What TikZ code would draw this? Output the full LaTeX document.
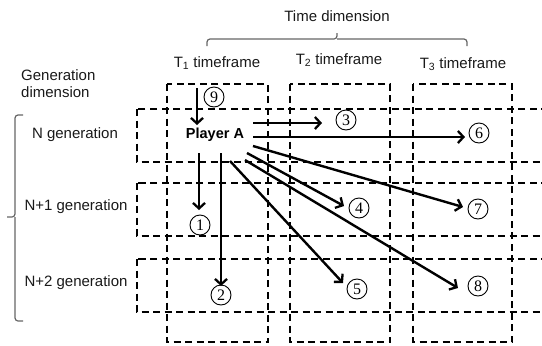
\documentclass[tikz,border=0pt]{standalone}
\usepackage{fontspec}
\setmainfont{Liberation Sans}
\newfontfamily\numfont{Liberation Serif}
\usetikzlibrary{arrows.meta}
\tikzset{
  dbox/.style={draw=black, line width=2pt, dash pattern=on 7pt off 4.5pt},
  lbl/.style={font=\fontsize{15}{17}\selectfont, text=black!90, inner sep=0pt},
  num/.style={draw=black, circle, line width=0.9pt, minimum size=20pt, inner sep=0pt, font=\numfont\fontsize{16}{16}\selectfont},
  arr/.style={line width=2.4pt, -{Straight Barb[length=5.5pt,width=12pt,line width=2.3pt]}},
  gbrace/.style={draw=black!60, line width=1.2pt, rounded corners=3pt},
}
\begin{document}
\begin{tikzpicture}[x=1pt,y=-1pt]
\useasboundingbox (0,0) rectangle (542,346);
% column boxes
\draw[dbox] (167,84) rectangle (268,342);
\draw[dbox] (290,84) rectangle (390,342);
\draw[dbox] (413,84) rectangle (512,342);
% row boxes (clipped at right edge)
\begin{scope}
\clip (0,0) rectangle (542,346);
\draw[dbox] (137,109) rectangle (600,162);
\draw[dbox] (137,183) rectangle (600,236);
\draw[dbox] (137,259) rectangle (600,312);
\end{scope}
% labels
\node[lbl] (td) at (337,16) {Time dimension};
\node[lbl] (t1) at (217,63) {T\textsubscript{1} timeframe};
\node[lbl] (t2) at (339,60) {T\textsubscript{2} timeframe};
\node[lbl] (t3) at (463,64) {T\textsubscript{3} timeframe};
\node[lbl, align=left, anchor=west] (gd) at (21,84) {Generation\\dimension};
\node[lbl] (ng) at (75,135) {N generation};
\node[lbl] (n1) at (76,207) {N+1 generation};
\node[lbl] (n2) at (76,283) {N+2 generation};
% braces
\coordinate (tbl) at (207,46);
\coordinate (tbr) at (467,46);
\coordinate (tbt) at (337,33);
\draw[gbrace] (tbl) -- (207,39) -- (337,39) -- (tbt);
\draw[gbrace] (tbr) -- (467,39) -- (337,39);
\coordinate (lbt) at (23,115);
\coordinate (lbb) at (23,321);
\coordinate (lbm) at (7,217);
\draw[gbrace] (lbt) -- (15,115) -- (15,217) -- (lbm);
\draw[gbrace] (lbb) -- (15,321) -- (15,217);
% player
\node[font=\bfseries\fontsize{14.5}{16}\selectfont, inner sep=0pt] (pa) at (215,135) {Player A};
% numbered circles
\node[num] (c1) at (200,225) {1};
\node[num] (c2) at (221,295) {2};
\node[num] (c3) at (346,120) {3};
\node[num] (c4) at (359,208) {4};
\node[num] (c5) at (357,289) {5};
\node[num] (c6) at (479,133) {6};
\node[num] (c7) at (478,209) {7};
\node[num] (c8) at (478,286) {8};
\node[num] (c9) at (214,97) {9};
% arrow coordinates
\coordinate (s9) at (197,88);  \coordinate (e9) at (197,125);
\coordinate (s1) at (199,153); \coordinate (e1) at (199,210);
\coordinate (s2) at (221,153); \coordinate (e2) at (221,286);
\coordinate (s3) at (253,123); \coordinate (e3) at (322,123);
\coordinate (s6) at (253,137); \coordinate (e6) at (465,137);
\coordinate (s7) at (253,146); \coordinate (e7) at (463,207);
\coordinate (s4) at (247,153); \coordinate (e4) at (344,206);
\coordinate (s8) at (245,160); \coordinate (e8) at (458,288);
\coordinate (s5) at (230,161); \coordinate (e5) at (343,283);
\foreach \i in {9,1,2,3,6,7,4,8,5} {\draw[arr] (s\i) -- (e\i);}
\end{tikzpicture}
\end{document}
